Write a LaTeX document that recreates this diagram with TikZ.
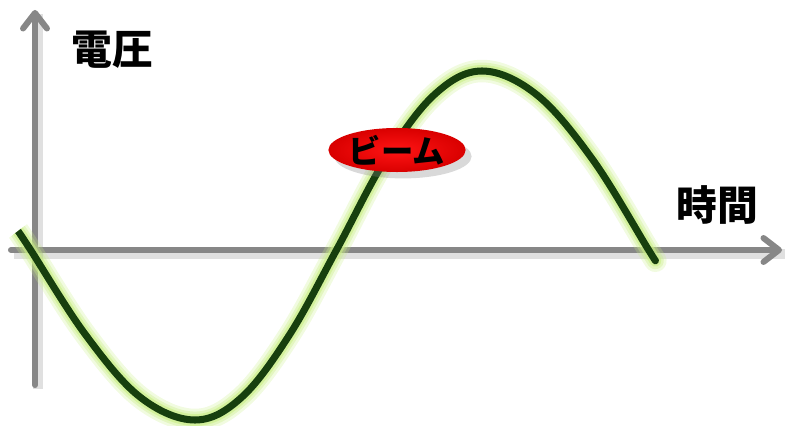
\documentclass[tikz,border=0pt]{standalone}
\usepackage{fontspec}
\newfontfamily\jpfont{Noto Sans CJK JP}
\usetikzlibrary{arrows.meta,shapes.geometric,shadows}

\definecolor{axisgray}{HTML}{878787}
\definecolor{wavegreen}{HTML}{173F0E}
\definecolor{glowgreen}{HTML}{C8EE84}

\tikzset{
  axisline/.style={axisgray,line width=4.3pt,line cap=round,
    -{Straight Barb[length=11pt,width=17pt,line cap=round,line join=round]}},
  axisshade/.style={black,opacity=0.12,line width=7pt},
  axislabel/.style={font=\jpfont\bfseries\fontsize{29pt}{30pt}\selectfont,inner sep=0pt},
  beam/.style={ellipse,minimum width=3.43cm,minimum height=1.1cm,inner sep=0pt,
    inner color=red!92!white,outer color=red!85!black,
    drop shadow={shadow xshift=0.15cm,shadow yshift=-0.16cm,opacity=0.3},
    font=\jpfont\bfseries\fontsize{23pt}{24pt}\selectfont}
}

\begin{document}
\begin{tikzpicture}[x=0.025cm,y=-0.025cm]
  \useasboundingbox (0,0) rectangle (789,426);

  % axes
  \coordinate (yfoot) at (35,385);
  \coordinate (ytip)  at (35,10);
  \coordinate (xfoot) at (11,250);
  \coordinate (xtip)  at (782,250);
  \draw[axisshade] ([shift={(3,4)}]yfoot) -- ([shift={(3,4)}]ytip);
  \draw[axisshade] ([shift={(3,4)}]xfoot) -- ([shift={(3,4)}]xtip);
  \draw[axisline] (yfoot) -- (ytip);
  \draw[axisline] (xfoot) -- (xtip);

  % voltage wave, soft glow first
  \foreach \w/\c/\o in {16pt/glowgreen/0.25, 12pt/glowgreen/0.35,
                        8.5pt/glowgreen/0.6, 5pt/wavegreen/1}
    \draw[\c,line width=\w,opacity=\o,line join=round]
      plot[smooth,tension=0.6] coordinates {(18,231) (30,249) (85,334) (140,397)
        (195,420) (242,397) (290,334) (337,249) (385,160) (434,95)
        (482,71) (537,95) (593,160) (648,249) (655,260)};

  \node[axislabel] (volt) at (112,50)  {電圧};
  \node[axislabel] (time) at (717,205) {時間};
  \node[beam]      (pulse) at (397,150) {ビーム};
\end{tikzpicture}
\end{document}
